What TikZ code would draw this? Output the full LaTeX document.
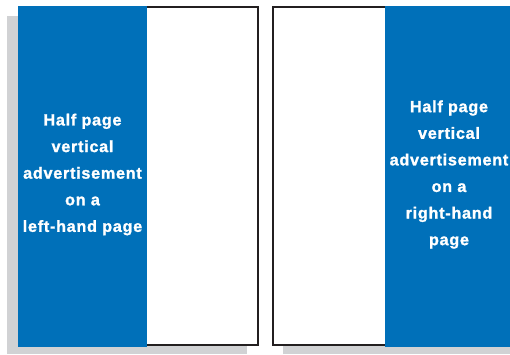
\documentclass[tikz,border=0pt]{standalone}
\usepackage{fontspec}
\newfontfamily\adfont[LetterSpace=4.5, BoldFeatures={FakeBold=1.4}]{Liberation Sans}
\definecolor{adblue}{RGB}{0,112,185}
\definecolor{shadowgray}{RGB}{209,210,212}
\definecolor{edgegray}{RGB}{35,31,32}
\tikzset{
  shadowbox/.style={fill=shadowgray},
  pagebox/.style={fill=white},
  adbox/.style={fill=adblue},
  pageedge/.style={draw=edgegray, line width=2.4pt},
  adtext/.style={text=white, align=center, inner sep=0pt,
    font={\adfont\bfseries\fontsize{16.2}{26.6}\selectfont}}
}
\begin{document}
\begin{tikzpicture}[x=1pt,y=-1pt]
\useasboundingbox (0,0) rectangle (510,354);
% shadows
\fill[shadowbox] (7,16) rectangle (247,354);
\fill[shadowbox] (283,16) rectangle (510,354);
% pages
\fill[pagebox] (18,6) rectangle (258,346);
\fill[pagebox] (273,6) rectangle (510,346);
% advertisements
\fill[adbox] (18,6) rectangle (147,347);
\fill[adbox] (385,6) rectangle (510,347);
% page edges
\draw[pageedge] (147,7) -| (258,345) -- (147,345);
\draw[pageedge] (385,7) -| (273,345) -- (385,345);
% texts
\node[adtext] (leftad) at (82.5,174.5) {Half page\\vertical\\advertisement\\on a\\left-hand page};
\node[adtext] (rightad) at (449,174.5) {Half page\\vertical\\advertisement\\on a\\right-hand\\page};
\end{tikzpicture}
\end{document}
